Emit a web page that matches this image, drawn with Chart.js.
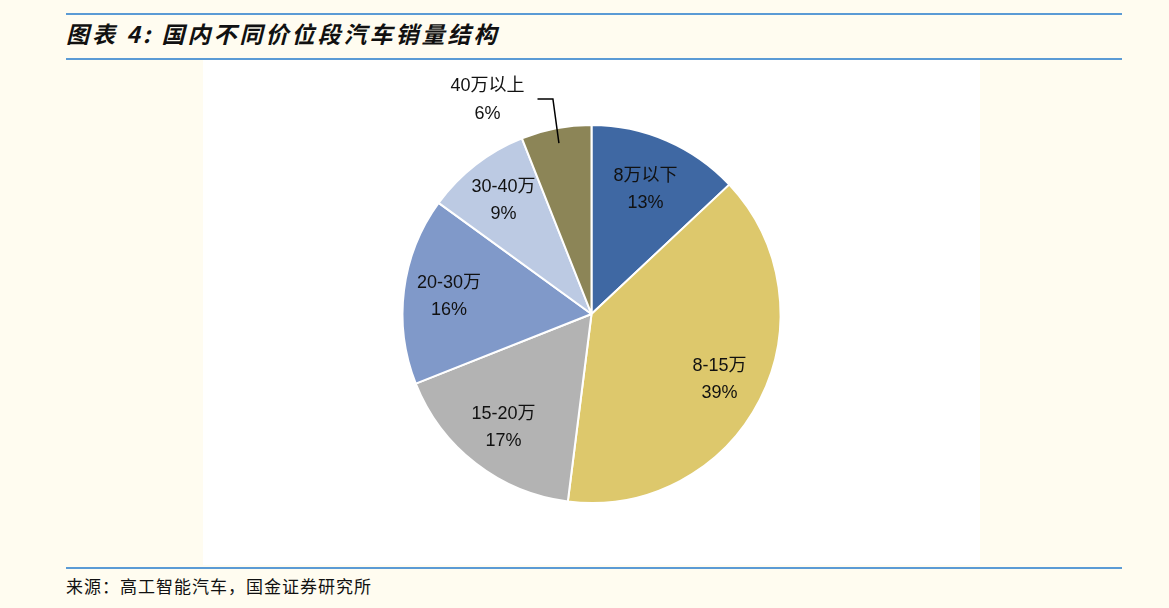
<!DOCTYPE html>
<html><head><meta charset="utf-8">
<script src="https://cdn.jsdelivr.net/npm/chart.js@4"></script>
<style>
body{margin:0;width:1169px;height:608px;background:#fffcf0;position:relative;overflow:hidden;font-family:"Noto Sans CJK SC",sans-serif}
.line{position:absolute;left:66px;width:1056px;height:2px;background:#5b9bd5}
#title{position:absolute;left:66px;top:16px;font-size:23px;font-style:italic;font-weight:bold;color:#111;letter-spacing:3px}
#src{position:absolute;left:66px;top:573px;font-size:17px;color:#111;letter-spacing:1px}
#box{position:absolute;left:203px;top:60px;width:777px;height:505px;background:#fff}
</style></head><body>
<div class="line" style="top:13px"></div>
<div id="title">图表 4:&nbsp;国内不同价位段汽车销量结构</div>
<div class="line" style="top:58px"></div>
<div id="box"><canvas id="c" width="777" height="505"></canvas></div>
<div class="line" style="top:567px"></div>
<div id="src">来源：高工智能汽车，国金证券研究所</div>
<script>
const labels = ['8万以下', '8-15万', '15-20万', '20-30万', '30-40万', '40万以上'];
const values = [13, 39, 17, 16, 9, 6];
const colors = ['#3f68a3', '#ddc86c', '#b3b3b3', '#8099c9', '#bccae3', '#8c8557'];

const labelPlugin = {
  id: 'sliceLabels',
  afterDatasetsDraw(chart) {
    const ctx = chart.ctx;
    const arcs = chart.getDatasetMeta(0).data;
    ctx.save();
    ctx.font = '18px Arial, "Noto Sans CJK SC"';
    ctx.fillStyle = '#111';
    ctx.textAlign = 'center';
    ctx.textBaseline = 'middle';
    arcs.forEach((arc, i) => {
      const mid = (arc.startAngle + arc.endAngle) / 2;
      const r = arc.outerRadius;
      if (i === labels.length - 1) {
        const ex = arc.x + Math.cos(mid) * r * 0.92, ey = arc.y + Math.sin(mid) * r * 0.92;
        const tx = arc.x - 104, ty = arc.y - 225;
        ctx.strokeStyle = '#000'; ctx.lineWidth = 1.5;
        ctx.beginPath(); ctx.moveTo(tx + 50, ty + 10); ctx.lineTo(ex - 6, ty + 10); ctx.lineTo(ex, ey); ctx.stroke();
        ctx.fillText(labels[i], tx, ty - 3);
        ctx.fillText(values[i] + '%', tx, ty + 25);
        return;
      }
      const f = i === 0 ? 0.72 : 0.76;
      const x = arc.x + Math.cos(mid) * r * f, y = arc.y + Math.sin(mid) * r * f;
      ctx.fillText(labels[i], x, y - 13);
      ctx.fillText(values[i] + '%', x, y + 14);
    });
    ctx.restore();
  }
};

new Chart(document.getElementById('c'), {
  type: 'pie',
  data: { labels: labels, datasets: [{ data: values, backgroundColor: colors, borderColor: '#fff', borderWidth: 2 }] },
  options: {
    responsive: false, animation: false,
    layout: { padding: { top: 64, bottom: 61 } },
    plugins: { legend: { display: false }, tooltip: { enabled: false } }
  },
  plugins: [labelPlugin]
});
</script>
</body></html>
